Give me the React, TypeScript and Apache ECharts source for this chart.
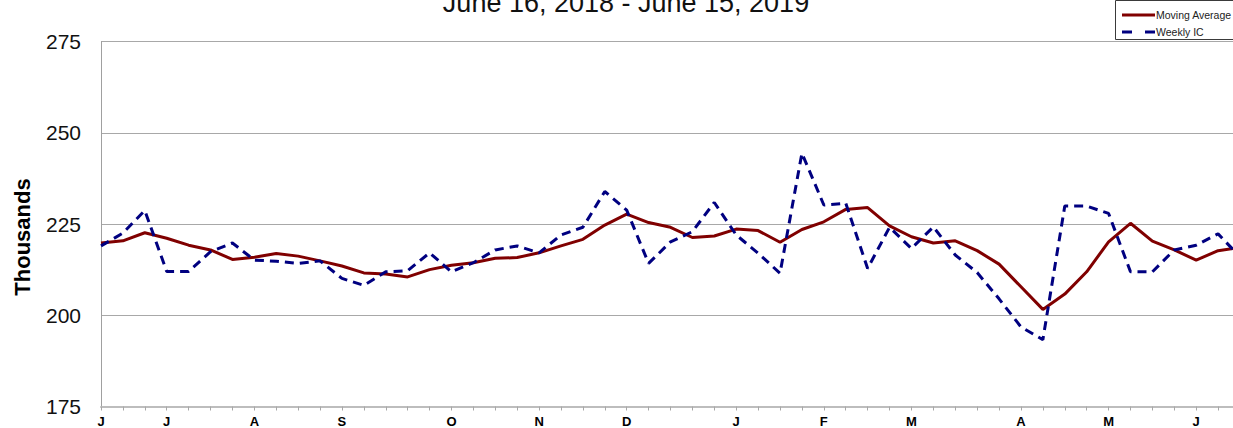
import React, { useEffect, useRef } from "react";
import * as echarts from "echarts";

const weekDates = [
  "6/16/18", "6/23/18", "6/30/18", "7/7/18", "7/14/18", "7/21/18", "7/28/18",
  "8/4/18", "8/11/18", "8/18/18", "8/25/18", "9/1/18", "9/8/18", "9/15/18",
  "9/22/18", "9/29/18", "10/6/18", "10/13/18", "10/20/18", "10/27/18",
  "11/3/18", "11/10/18", "11/17/18", "11/24/18", "12/1/18", "12/8/18",
  "12/15/18", "12/22/18", "12/29/18", "1/5/19", "1/12/19", "1/19/19",
  "1/26/19", "2/2/19", "2/9/19", "2/16/19", "2/23/19", "3/2/19", "3/9/19",
  "3/16/19", "3/23/19", "3/30/19", "4/6/19", "4/13/19", "4/20/19", "4/27/19",
  "5/4/19", "5/11/19", "5/18/19", "5/25/19", "6/1/19", "6/8/19", "6/15/19",
];

const monthLabels = ["J", "J", "A", "S", "O", "N", "D", "J", "F", "M", "A", "M", "J"];
const monthLabelWeeks = [0, 3, 7, 11, 16, 20, 24, 29, 33, 37, 42, 46, 50];

const movingAverage = [
  219.8, 220.4, 222.6, 221.1, 219.2, 217.9, 215.3, 215.9, 216.9, 216.2,
  214.9, 213.5, 211.6, 211.3, 210.5, 212.5, 213.7, 214.4, 215.6, 215.8,
  217.1, 219.0, 220.8, 224.7, 227.7, 225.4, 224.1, 221.3, 221.7, 223.6,
  223.2, 220.0, 223.5, 225.6, 229.0, 229.5, 224.5, 221.5, 219.8, 220.4,
  217.7, 214.0, 207.8, 201.6, 205.8, 211.9, 220.1, 225.2, 220.3, 217.9,
  215.1, 217.7, 218.6,
];

const weeklyIC = [
  219.0, 222.5, 228.7, 212.0, 212.0, 217.4, 219.8, 215.1, 214.8, 214.2,
  214.9, 210.1, 208.2, 211.9, 212.2, 217.1, 211.9, 214.4, 217.9, 219.0,
  217.1, 222.0, 224.1, 233.9, 228.8, 214.2, 220.1, 222.9, 230.9, 222.0,
  217.0, 211.5, 244.4, 230.2, 230.7, 212.8, 224.1, 218.3, 224.2, 216.5,
  211.7, 204.5, 196.8, 193.3, 229.9, 229.9, 227.9, 211.9, 211.9, 217.9,
  219.2, 222.3, 216.0,
];

const titleText = "June 16, 2018 - June 15, 2019";
const yAxisTitle = "Thousands";
const seriesNames = ["Moving Average", "Weekly IC"];
const yTicks = { min: 175, max: 275, interval: 25 };

const FONT = "'Liberation Sans', Arial, sans-serif";
const RED = "#800000";
const BLUE = "#000080";

export default function App() {
  const ref = useRef<HTMLDivElement>(null);

  useEffect(() => {
    if (!ref.current) return;
    const chart = echarts.init(ref.current, undefined, { renderer: "svg" });
    const option = {
      animation: false,
      backgroundColor: "#ffffff",
      grid: {
        left: 101,
        right: -7,
        top: 41.5,
        bottom: 21.5,
        containLabel: false,
        outerBoundsMode: "none",
      },
      xAxis: {
        type: "category",
        data: weekDates,
        boundaryGap: false,
        axisLine: { show: true, lineStyle: { color: "#BDBDBD", width: 2 } },
        axisTick: { show: true, interval: 0, length: 4, lineStyle: { color: "#A8A8A8", width: 1 } },
        axisLabel: {
          interval: 0,
          margin: 8,
          color: "#000",
          fontFamily: FONT,
          fontWeight: "bold",
          fontSize: 13,
          lineHeight: 13,
          formatter: (_v: string, idx: number) => {
            const k = monthLabelWeeks.indexOf(idx);
            return k >= 0 ? monthLabels[k] : "";
          },
        },
        splitLine: { show: false },
      },
      yAxis: {
        type: "value",
        min: yTicks.min,
        max: yTicks.max,
        interval: yTicks.interval,
        axisLine: { show: true, lineStyle: { color: "#A0A0A0", width: 1 } },
        axisTick: { show: false },
        axisLabel: { color: "#111", fontFamily: FONT, fontSize: 21, margin: 20 },
        splitLine: { show: true, lineStyle: { color: "#A8A8A8", width: 1 } },
      },
      series: [
        {
          name: seriesNames[0],
          type: "line",
          data: movingAverage,
          symbol: "none",
          lineStyle: { color: RED, width: 3 },
          z: 2,
        },
        {
          name: seriesNames[1],
          type: "line",
          data: weeklyIC,
          symbol: "none",
          lineStyle: { color: BLUE, width: 3, type: [9, 6] },
          z: 3,
        },
      ],
      graphic: [
        {
          type: "text",
          x: 626,
          y: 3,
          style: {
            text: titleText,
            fill: "#111",
            fontFamily: FONT,
            fontSize: 27,
            align: "center",
            verticalAlign: "middle",
          },
        },
        {
          type: "text",
          x: 22,
          y: 237,
          rotation: Math.PI / 2,
          style: {
            text: yAxisTitle,
            fill: "#000",
            fontFamily: FONT,
            fontSize: 22,
            fontWeight: "bold",
            align: "center",
            verticalAlign: "middle",
          },
        },
        {
          type: "rect",
          shape: { x: 1115.5, y: 0.5, width: 130, height: 39 },
          style: { fill: "#fff", stroke: "#3a3a3a", lineWidth: 1 },
          z: 10,
        },
        {
          type: "line",
          shape: { x1: 1122, y1: 15, x2: 1155, y2: 15 },
          style: { stroke: RED, lineWidth: 3 },
          z: 11,
        },
        {
          type: "line",
          shape: { x1: 1122, y1: 32, x2: 1155, y2: 32 },
          style: { stroke: BLUE, lineWidth: 3, lineDash: [10, 13] },
          z: 11,
        },
        {
          type: "text",
          x: 1156,
          y: 15,
          style: {
            text: seriesNames[0],
            fill: "#222",
            fontFamily: FONT,
            fontSize: 10.5,
            align: "left",
            verticalAlign: "middle",
          },
          z: 11,
        },
        {
          type: "text",
          x: 1156,
          y: 32,
          style: {
            text: seriesNames[1],
            fill: "#222",
            fontFamily: FONT,
            fontSize: 10.5,
            align: "left",
            verticalAlign: "middle",
          },
          z: 11,
        },
      ],
    };
    chart.setOption(option as any);
    return () => chart.dispose();
  }, []);

  return (
    <div
      ref={ref}
      style={{ position: "absolute", left: 0, top: 0, width: 1233, height: 428 }}
    />
  );
}
